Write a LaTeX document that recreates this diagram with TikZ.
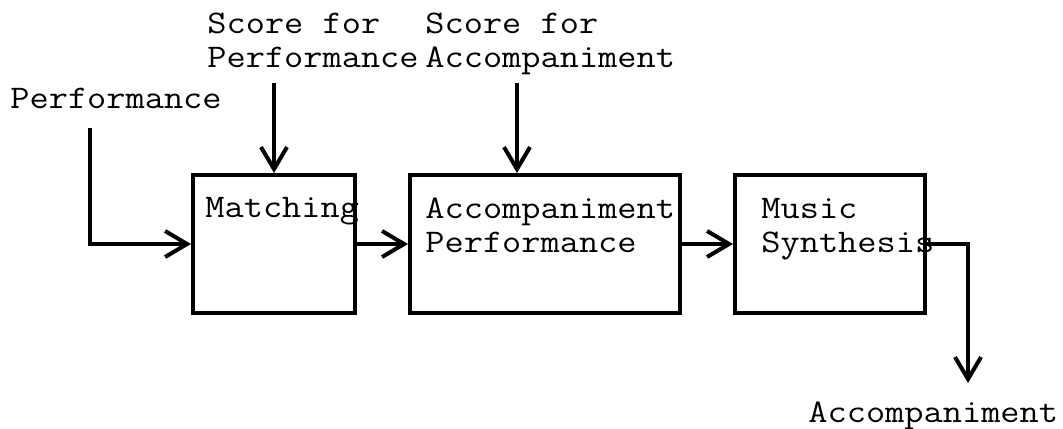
\documentclass[tikz,border=0pt]{standalone}
\usepackage{fontspec}
\newfontfamily\courfont{Latin Modern Mono}[FakeStretch=1.13]
\usetikzlibrary{arrows.meta}
\begin{document}
\begin{tikzpicture}[x=0.5pt,y=-0.5pt,
  blk/.style={draw,line width=2pt,inner sep=0pt},
  lbl/.style={inner sep=0pt,anchor=base west,align=left,font=\courfont\fontsize{16.5}{17}\selectfont},
  conn/.style={line width=2pt,-{Straight Barb[length=11pt,width=13pt,line width=2pt]}}]
\useasboundingbox (0,0) rectangle (1063,428);
% boxes
\node[blk,minimum width=81pt,minimum height=69pt] (m) at (274,244) {};
\node[blk,minimum width=135pt,minimum height=69pt] (a) at (545,244) {};
\node[blk,minimum width=95pt,minimum height=69pt] (s) at (830,244) {};
% texts (base anchor = baseline of last line)
\node[lbl] (tm) at (205,217) {Matching};
\node[lbl] (ta) at (425,252) {Accompaniment\\Performance};
\node[lbl] (ts) at (761,252) {Music\\Synthesis};
\node[lbl] (tperf) at (10,108) {Performance};
\node[lbl] (tsfp) at (207,67) {Score for\\Performance};
\node[lbl] (tsfa) at (425,67) {Score for\\Accompaniment};
\node[lbl] (tout) at (808,422) {Accompaniment};
% connector ends
\coordinate (p0) at (90,128);
\coordinate (q0) at (274,83);
\coordinate (r0) at (517,83);
\coordinate (o1) at (968,244);
\coordinate (o2) at (968,383);
% connectors
\draw[conn] (p0) |- (m.west);
\draw[conn] (q0) -- (q0 |- m.north);
\draw[conn] (r0) -- (r0 |- a.north);
\draw[conn] (m.east) -- (a.west);
\draw[conn] (a.east) -- (s.west);
\draw[conn] (s.east) -- (o1) -- (o2);
\end{tikzpicture}
\end{document}
